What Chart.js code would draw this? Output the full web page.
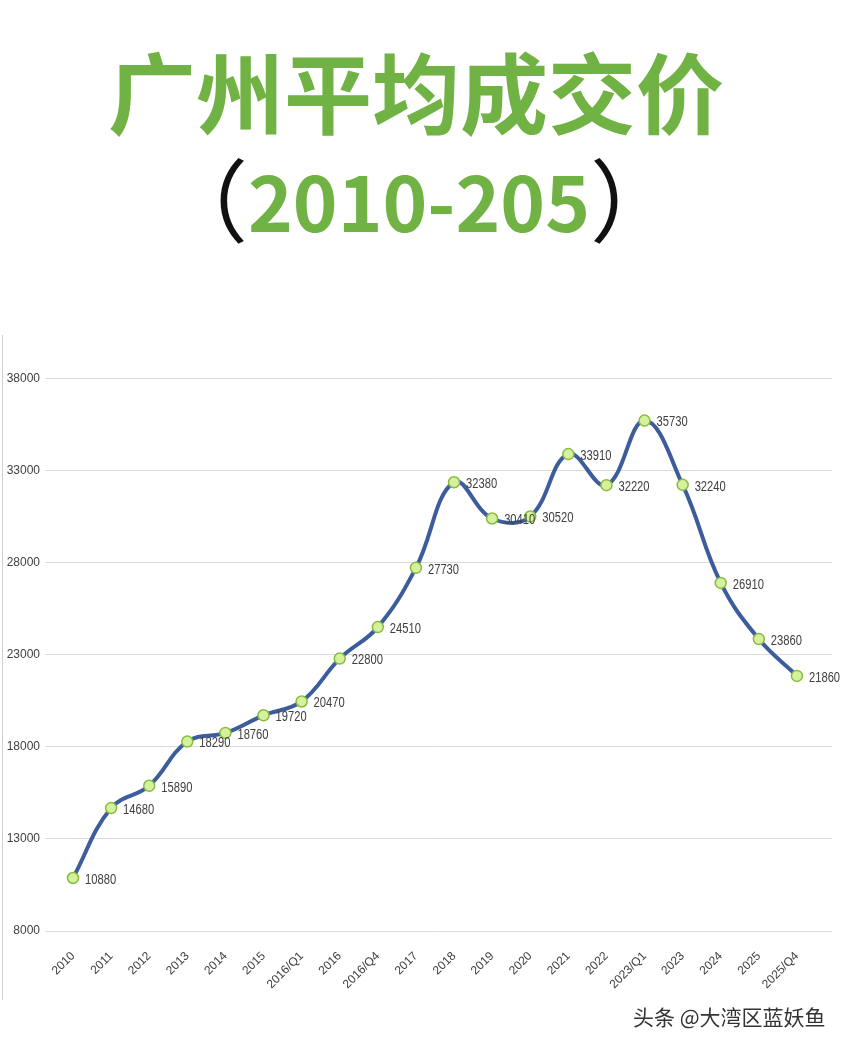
<!DOCTYPE html>
<html>
<head>
<meta charset="utf-8">
<script src="https://cdn.jsdelivr.net/npm/chart.js@4.4.1/dist/chart.umd.min.js"></script>
<style>
    body { margin: 0; background: #ffffff; width: 850px; height: 1048px; position: relative; overflow: hidden; }
    .titulo { position: absolute; left: 0; width: 850px; text-align: center; font-family: 'Noto Sans CJK SC', sans-serif; font-weight: 700; color: #70b244; }
    #t1 { top: 45px; font-size: 88px; line-height: 88px; left: -9px; }
    #t2 { top: 150px; font-size: 76px; line-height: 86px; left: -6px; }
    #t2 .par { color: #111111; font-weight: 400; font-size: 90px; position: relative; top: 3px; }
    #marco { position: absolute; left: 2px; top: 335px; height: 665px; border-left: 1px solid #cfcfcf; }
    #caja { position: absolute; left: 0; top: 300px; width: 850px; height: 720px; }
    #firma { position: absolute; left: 633px; top: 1001px; font-family: 'Noto Sans CJK SC', sans-serif; font-size: 21px; color: #333333; text-shadow: 0 0 2px #ffffff; white-space: nowrap; }
</style>
</head>
<body>
<div class="titulo" id="t1">广州平均成交价</div>
<div class="titulo" id="t2"><span class="par">（</span>2010-205<span class="par">）</span></div>
<div id="marco"></div>
<div id="caja"><canvas id="grafico"></canvas></div>
<div id="firma">头条 @大湾区蓝妖鱼</div>
<script>
const periodos = ['2010', '2011', '2012', '2013', '2014', '2015', '2016/Q1', '2016', '2016/Q4', '2017',
    '2018', '2019', '2020', '2021', '2022', '2023/Q1', '2023', '2024', '2025', '2025/Q4'];
const precios = [10880, 14680, 15890, 18290, 18760, 19720, 20470, 22800, 24510, 27730,
    32380, 30410, 30520, 33910, 32220, 35730, 32240, 26910, 23860, 21860];
const marcasY = [8000, 13000, 18000, 23000, 28000, 33000, 38000];

const fuente = "'Liberation Sans', sans-serif";

// etiquetas de valor a la derecha de cada punto (letra algo estrecha, como en el original)
const etiquetas = {
    id: 'etiquetas',
    afterDatasetsDraw(chart) {
        const ctx = chart.ctx;
        const meta = chart.getDatasetMeta(0);
        ctx.save();
        ctx.font = '14px ' + fuente;
        ctx.fillStyle = '#404040';
        ctx.textAlign = 'left';
        ctx.textBaseline = 'middle';
        meta.data.forEach(function (pt, i) {
            ctx.save();
            ctx.translate(pt.x + 12, pt.y + 2);
            ctx.scale(0.8, 1);
            ctx.fillText(String(precios[i]), 0, 0);
            ctx.restore();
        });
        ctx.restore();
    }
};

document.addEventListener('DOMContentLoaded', function () {
    const grafico = document.getElementById('grafico').getContext('2d');
    new Chart(grafico, {
        type: 'line',
        data: {
            datasets: [{
                data: precios.map((v, i) => ({ x: i, y: v })),
                borderColor: '#3d5c9c',
                borderWidth: 4,
                tension: 0.4,
                pointRadius: 5.5,
                pointBackgroundColor: '#d6f09e',
                pointBorderColor: '#86bd3e',
                pointBorderWidth: 1.5,
                clip: false
            }]
        },
        options: {
            responsive: true,
            maintainAspectRatio: false,
            animation: false,
            layout: { padding: { left: 0, right: 18, top: 42, bottom: 0 } },
            plugins: { legend: { display: false }, tooltip: { enabled: false } },
            scales: {
                x: {
                    type: 'linear',
                    min: -0.735,
                    max: 19.92,
                    afterBuildTicks: function (axis) {
                        axis.ticks = periodos.map((p, i) => ({ value: i }));
                    },
                    afterFit: function (axis) { axis.height = 89; },
                    grid: { display: false },
                    border: { display: false },
                    ticks: {
                        autoSkip: false,
                        minRotation: 45,
                        maxRotation: 45,
                        padding: 10,
                        color: '#404040',
                        font: { family: fuente, size: 12 },
                        callback: function (v) { return periodos[v]; }
                    }
                },
                y: {
                    min: 8000,
                    max: 40000,
                    afterBuildTicks: function (axis) {
                        axis.ticks = marcasY.map(v => ({ value: v }));
                    },
                    afterFit: function (axis) { axis.width = 45; },
                    grid: { color: '#dcdcdc', lineWidth: 1, drawTicks: false },
                    border: { display: false },
                    ticks: {
                        padding: 5,
                        color: '#404040',
                        font: { family: fuente, size: 12 },
                        callback: function (v) { return String(v); }
                    }
                }
            }
        },
        plugins: [etiquetas]
    });
});
</script>
</body>
</html>
